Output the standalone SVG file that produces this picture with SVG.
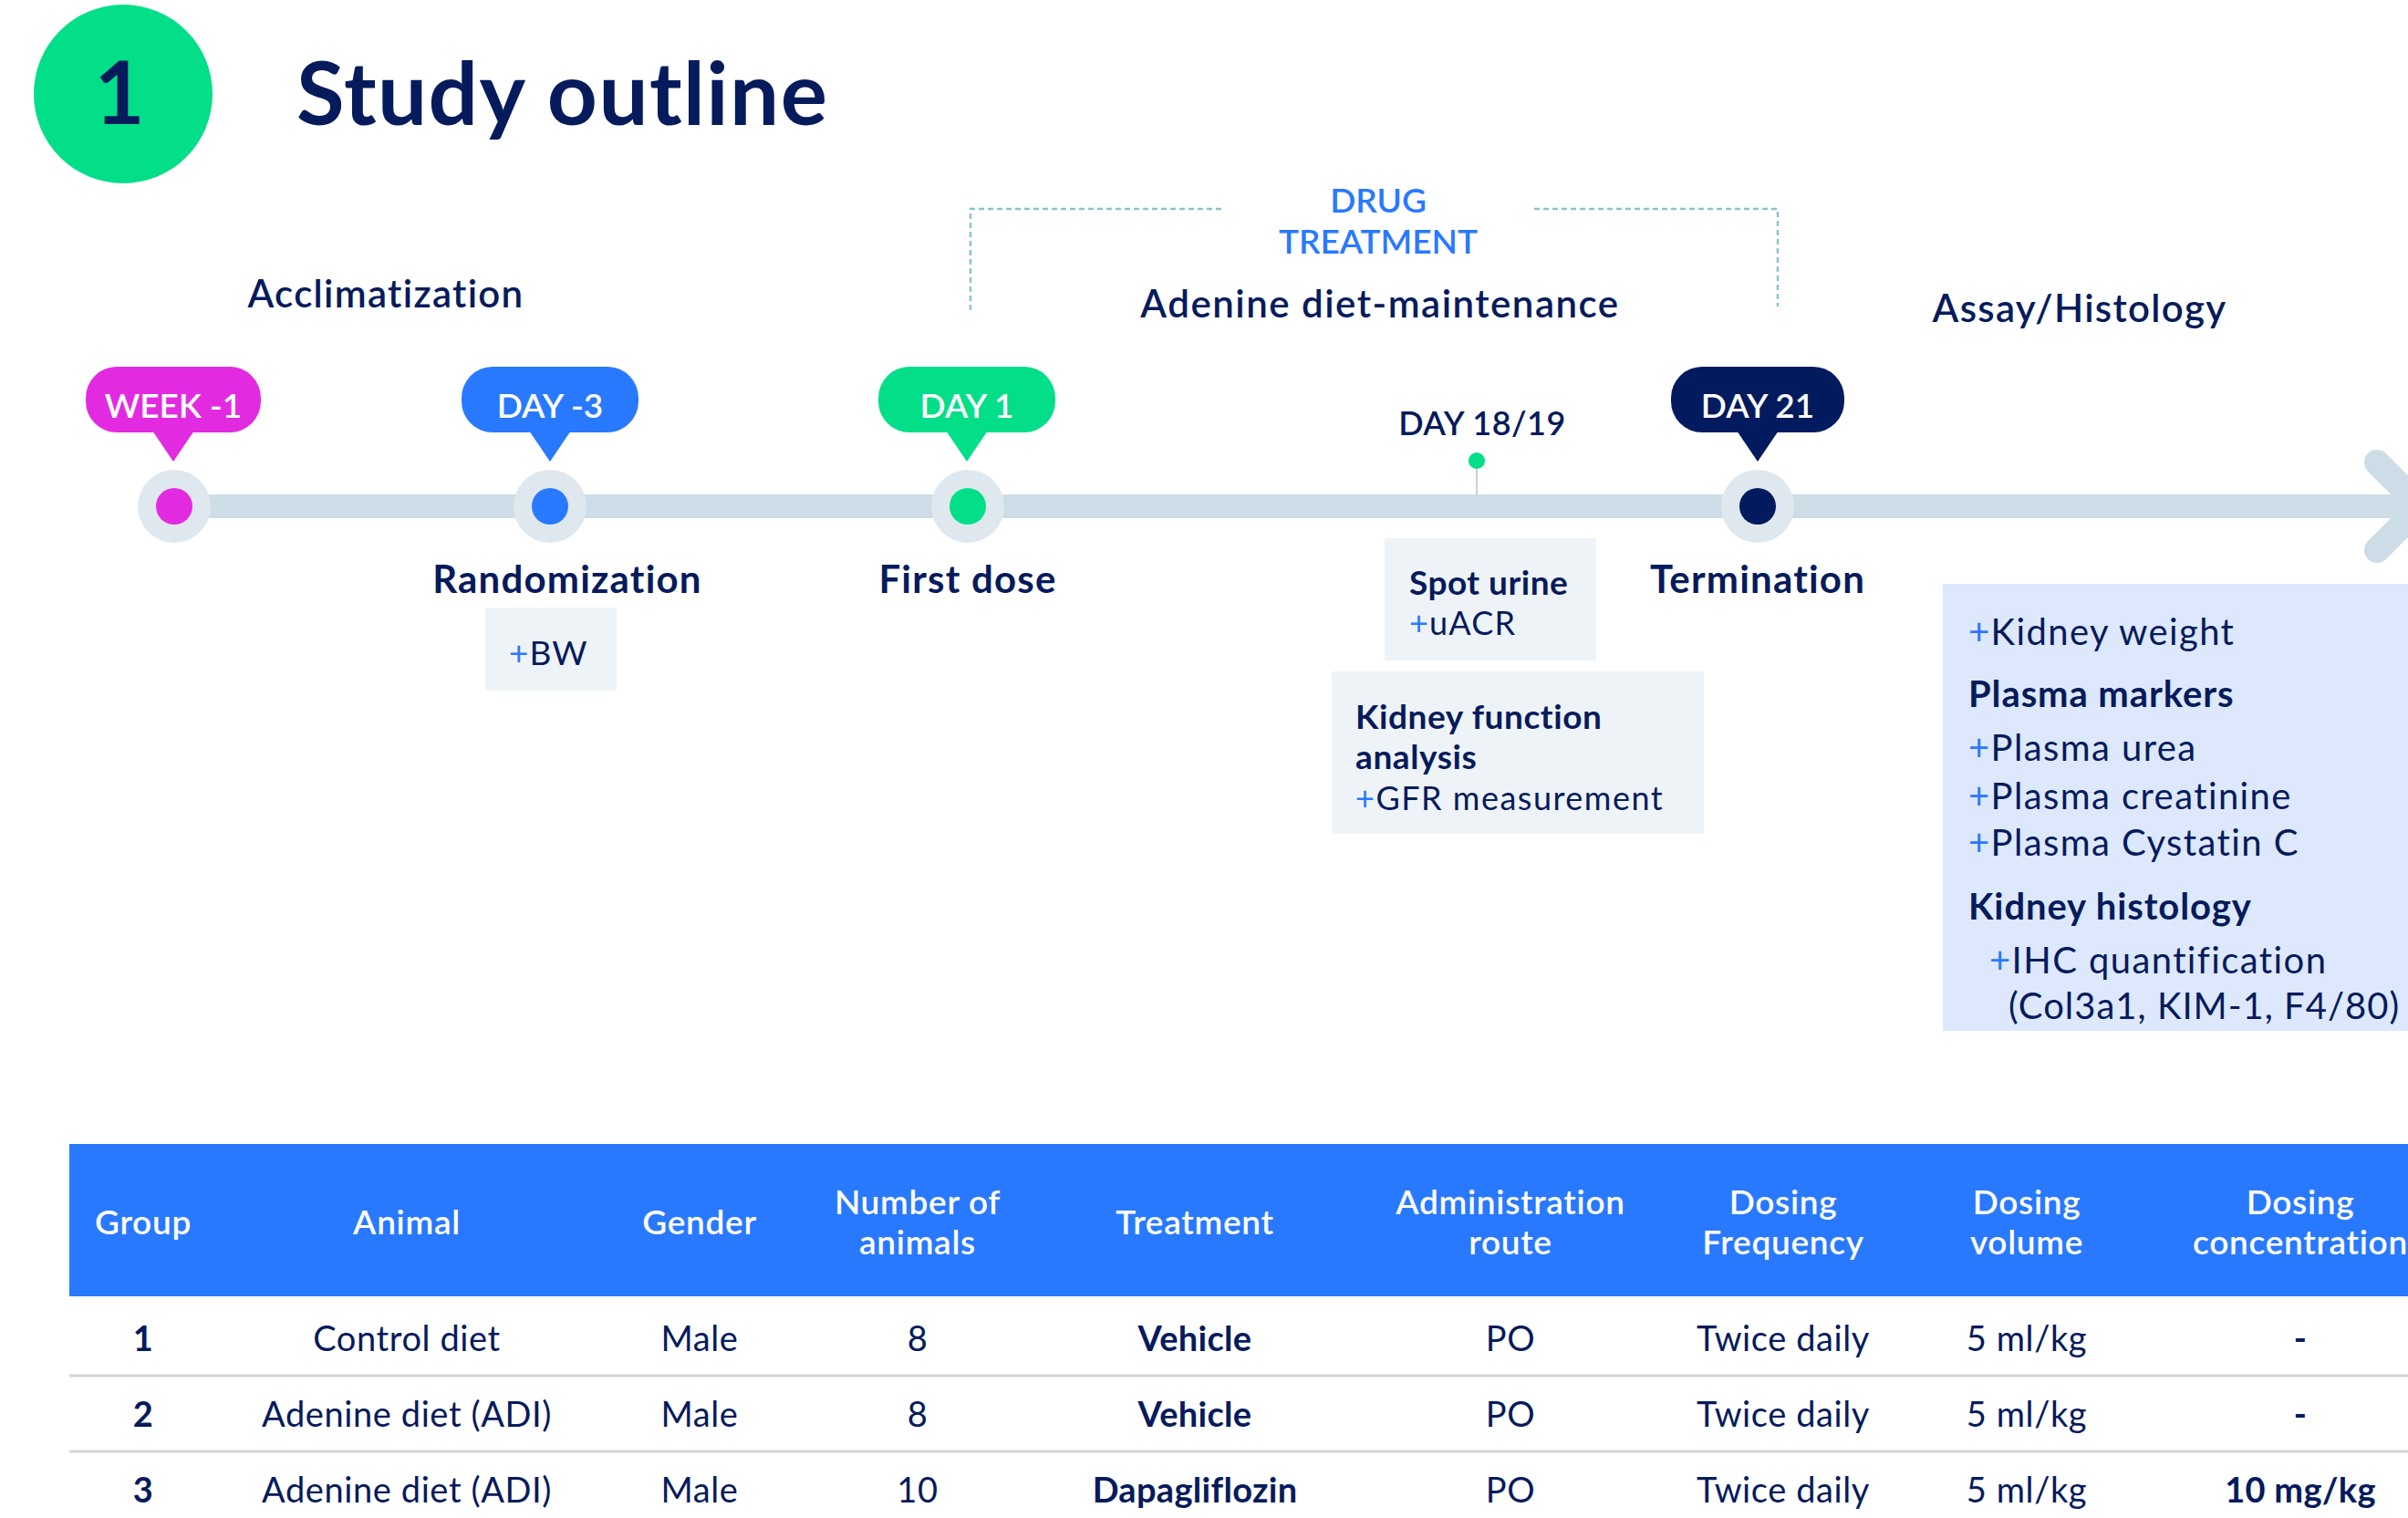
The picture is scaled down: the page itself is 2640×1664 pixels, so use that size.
<svg xmlns="http://www.w3.org/2000/svg" width="2640" height="1664" viewBox="0 0 2640 1664">
<style>
  text { font-family: Lato, "Noto Sans", "Liberation Sans", sans-serif; fill: #061b5c; }
  .b { font-weight: 700; }
  .m { font-weight: 600; }
  .r { font-weight: 400; }
  .c { text-anchor: middle; }
  .plus { fill: #2979ff; }
  .halo { fill: #dfe8ef; }
  .box { fill: #eef3f8; }
  .bub { font-size: 37px; font-weight: 600; fill: #ffffff; text-anchor: middle; }
  .lab { font-size: 42px; font-weight: 700; text-anchor: middle; letter-spacing: 1.2px; }
  .phase { font-size: 42px; font-weight: 600; text-anchor: middle; letter-spacing: 1.3px; }
  .th { font-size: 37px; font-weight: 600; fill: #ffffff; text-anchor: middle; letter-spacing: 0.7px; }
  .td { font-size: 38px; font-weight: 400; text-anchor: middle; letter-spacing: 0.6px; }
  .tdb { font-size: 38px; font-weight: 700; text-anchor: middle; letter-spacing: 0.3px; }
  .rowline { stroke: #d6d6d6; stroke-width: 3; }
  .item { font-size: 40px; font-weight: 400; letter-spacing: 1.4px; }
  .head { font-size: 40px; font-weight: 700; letter-spacing: 0.9px; }
</style>

<g id="title">
  <circle cx="135" cy="103" r="98" fill="#02df88"/>
  <text x="131" y="136" class="b c" font-size="95">1</text>
  <text x="325" y="137" class="b" font-size="96" letter-spacing="1.4">Study outline</text>
</g>

<g id="phase-labels">
  <text x="423" y="337" class="phase">Acclimatization</text>
  <text x="1513" y="348" class="phase" style="letter-spacing:1.5px">Adenine diet-maintenance</text>
  <text x="2280" y="353" class="phase">Assay/Histology</text>
</g>

<g id="drug-treatment">
  <path d="M1064 340 V229 H1339 M1682 229 H1949 V336" fill="none" stroke="#8cc3cc" stroke-width="2.5" stroke-dasharray="6 4"/>
  <text x="1511" y="233" class="m c" font-size="37" style="fill:#2979ff">DRUG</text>
  <text x="1511" y="278" class="m c" font-size="37" style="fill:#2979ff">TREATMENT</text>
</g>

<g id="connectors">
  <line x1="191" y1="555" x2="2650" y2="555" stroke="#cddde7" stroke-width="26"/>
  <polyline points="2606,507 2654,555 2606,603" fill="none" stroke="#cddde7" stroke-width="28" stroke-linecap="round" stroke-linejoin="round"/>
  <line x1="1619" y1="505" x2="1619" y2="543" stroke="#c5d3de" stroke-width="2"/>
</g>

<g id="week-1">
  <rect x="94" y="402" width="192" height="72" rx="34" fill="#e22be0"/>
  <polygon points="167,472 213,472 190,506" fill="#e22be0"/>
  <text x="190" y="458" class="bub">WEEK -1</text>
  <circle cx="191" cy="555" r="40" class="halo"/>
  <circle cx="191" cy="555" r="20" fill="#e22be0"/>
</g>

<g id="day-3">
  <rect x="506" y="402" width="194" height="72" rx="34" fill="#2979ff"/>
  <polygon points="580,472 626,472 603,506" fill="#2979ff"/>
  <text x="603" y="458" class="bub">DAY -3</text>
  <circle cx="603" cy="555" r="40" class="halo"/>
  <circle cx="603" cy="555" r="20" fill="#2979ff"/>
  <text x="622" y="650" class="lab">Randomization</text>
  <rect x="532" y="666" width="144" height="91" class="box"/>
  <text x="558" y="729" font-size="37" class="r" letter-spacing="1"><tspan class="plus">+</tspan>BW</text>
</g>

<g id="day1">
  <rect x="963" y="402" width="194" height="72" rx="34" fill="#02df88"/>
  <polygon points="1037,472 1083,472 1060,506" fill="#02df88"/>
  <text x="1060" y="458" class="bub">DAY 1</text>
  <circle cx="1061" cy="555" r="40" class="halo"/>
  <circle cx="1061" cy="555" r="20" fill="#02df88"/>
  <text x="1061" y="650" class="lab">First dose</text>
</g>

<g id="day18-19">
  <text x="1625" y="477" class="m c" font-size="36" letter-spacing="0.5">DAY 18/19</text>
  <circle cx="1619" cy="505" r="9" fill="#02df88"/>
  <rect x="1518" y="590" width="232" height="134" class="box"/>
  <text x="1545" y="652" class="b" font-size="37" letter-spacing="0.5">Spot urine</text>
  <text x="1545" y="696" class="r" font-size="36" letter-spacing="1.2"><tspan class="plus">+</tspan>uACR</text>
  <rect x="1460" y="736" width="408" height="178" class="box"/>
  <text x="1486" y="799" class="b" font-size="37" letter-spacing="0.6">Kidney function</text>
  <text x="1486" y="843" class="b" font-size="37" letter-spacing="0.6">analysis</text>
  <text x="1486" y="888" class="r" font-size="36" letter-spacing="1.5"><tspan class="plus">+</tspan>GFR measurement</text>
</g>

<g id="day21">
  <rect x="1832" y="402" width="190" height="72" rx="34" fill="#021a5e"/>
  <polygon points="1904,472 1950,472 1927,506" fill="#021a5e"/>
  <text x="1927" y="458" class="bub">DAY 21</text>
  <circle cx="1927" cy="555" r="40" class="halo"/>
  <circle cx="1927" cy="555" r="20" fill="#021a5e"/>
  <text x="1927" y="650" class="lab">Termination</text>
</g>

<g id="assay-box">
  <rect x="2130" y="640" width="510" height="490" fill="#dde8fc"/>
  <text x="2158" y="707" class="item"><tspan class="plus">+</tspan>Kidney weight</text>
  <text x="2158" y="775" class="head">Plasma markers</text>
  <text x="2158" y="834" class="item"><tspan class="plus">+</tspan>Plasma urea</text>
  <text x="2158" y="887" class="item"><tspan class="plus">+</tspan>Plasma creatinine</text>
  <text x="2158" y="938" class="item"><tspan class="plus">+</tspan>Plasma Cystatin C</text>
  <text x="2158" y="1008" class="head">Kidney histology</text>
  <text x="2181" y="1067" class="item"><tspan class="plus">+</tspan>IHC quantification</text>
  <text x="2202" y="1117" class="item" style="letter-spacing:1px">(Col3a1, KIM-1, F4/80)</text>
</g>

<g id="table">
  <rect x="76" y="1254" width="2564" height="167" fill="#2979ff"/>
  <text x="157" y="1353" class="th">Group</text>
  <text x="446" y="1353" class="th">Animal</text>
  <text x="767" y="1353" class="th">Gender</text>
  <text x="1006" y="1331" class="th">Number of</text>
  <text x="1006" y="1375" class="th">animals</text>
  <text x="1310" y="1353" class="th">Treatment</text>
  <text x="1656" y="1331" class="th">Administration</text>
  <text x="1656" y="1375" class="th">route</text>
  <text x="1955" y="1331" class="th">Dosing</text>
  <text x="1955" y="1375" class="th">Frequency</text>
  <text x="2222" y="1331" class="th">Dosing</text>
  <text x="2222" y="1375" class="th">volume</text>
  <text x="2522" y="1331" class="th">Dosing</text>
  <text x="2522" y="1375" class="th">concentration</text>

  <line x1="76" y1="1508" x2="2640" y2="1508" class="rowline"/>
  <line x1="76" y1="1591" x2="2640" y2="1591" class="rowline"/>

  <text x="157" y="1481" class="tdb">1</text>
  <text x="446" y="1481" class="td">Control diet</text>
  <text x="767" y="1481" class="td">Male</text>
  <text x="1006" y="1481" class="td">8</text>
  <text x="1310" y="1481" class="tdb">Vehicle</text>
  <text x="1656" y="1481" class="td">PO</text>
  <text x="1955" y="1481" class="td">Twice daily</text>
  <text x="2222" y="1481" class="td">5 ml/kg</text>
  <text x="2522" y="1481" class="tdb">-</text>

  <text x="157" y="1564" class="tdb">2</text>
  <text x="446" y="1564" class="td">Adenine diet (ADI)</text>
  <text x="767" y="1564" class="td">Male</text>
  <text x="1006" y="1564" class="td">8</text>
  <text x="1310" y="1564" class="tdb">Vehicle</text>
  <text x="1656" y="1564" class="td">PO</text>
  <text x="1955" y="1564" class="td">Twice daily</text>
  <text x="2222" y="1564" class="td">5 ml/kg</text>
  <text x="2522" y="1564" class="tdb">-</text>

  <text x="157" y="1647" class="tdb">3</text>
  <text x="446" y="1647" class="td">Adenine diet (ADI)</text>
  <text x="767" y="1647" class="td">Male</text>
  <text x="1006" y="1647" class="td">10</text>
  <text x="1310" y="1647" class="tdb">Dapagliflozin</text>
  <text x="1656" y="1647" class="td">PO</text>
  <text x="1955" y="1647" class="td">Twice daily</text>
  <text x="2222" y="1647" class="td">5 ml/kg</text>
  <text x="2522" y="1647" class="tdb">10 mg/kg</text>
</g>
</svg>
